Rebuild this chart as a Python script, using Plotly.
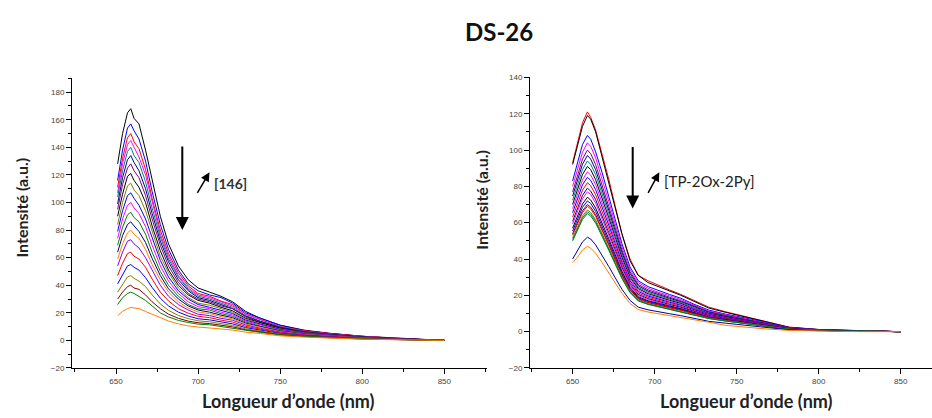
import plotly.graph_objects as go

# ---------------- data ----------------
WL_LEFT = [651, 654, 657, 659, 661, 664, 668, 672, 677, 682, 688, 694, 700, 707, 714, 721, 729, 738, 750, 765, 780, 800, 825, 850]

L01 = [128, 150, 165, 168, 161, 157, 138, 117, 90, 70, 54, 44, 38, 35, 32, 28, 21, 16, 11, 7.4, 5.2, 3, 1.3, 0]
L02 = [116, 138, 154, 157, 152, 146, 130, 108, 84, 66, 51, 41, 36, 33, 31, 27, 20, 16, 11, 7, 5, 3, 1.2, 0]
L03 = [111, 132, 147, 150, 144, 139, 124, 103, 80, 63, 49, 39.5, 34, 32, 28.5, 26, 19, 15, 10, 7, 5, 3, 1.2, 0]
L04 = [107, 128, 142, 145, 140, 133, 120, 100, 77, 61, 47, 38, 33, 31, 28, 25, 19, 15, 10, 6.6, 4.6, 2.7, 1.2, 0]
L05 = [104, 123, 137, 140, 134, 129, 115, 96, 75, 59, 46, 37, 32, 30, 27, 24, 18, 14, 9.7, 6.4, 4.5, 2.6, 1.1, 0]
L06 = [99, 118, 131, 134, 129, 123, 110, 92, 72, 57, 44, 36, 31, 29, 26, 23, 17.5, 13.7, 9.4, 6.2, 4.4, 2.5, 1.1, 0]
L07 = [95, 113, 125, 128, 123, 118, 105, 88, 69, 54, 42, 34, 30, 28, 25, 23, 17, 13, 9, 6, 4.2, 2.4, 1, 0]
L08 = [90, 106, 119, 121, 116, 111, 100, 83, 65, 51, 40, 33, 29, 27, 24, 21.5, 16, 12.7, 8.7, 5.7, 4, 2.3, 1, 0]
L09 = [84, 100, 112, 114, 109, 105, 94, 79, 61, 49, 38, 31, 27, 25.5, 23, 20.5, 15.5, 12, 8.3, 5.5, 3.9, 2.2, 0.9, 0]
L10 = [79, 94, 105, 107, 103, 98, 88, 74, 58, 46, 36, 30, 26, 24, 22, 19.5, 14.7, 11.6, 7.9, 5.2, 3.7, 2.1, 0.9, 0]
L11 = [74, 88, 98, 100, 96, 92, 82.5, 69, 54, 43, 34, 28, 24.5, 23, 20.5, 18.5, 14, 11, 7.5, 5, 3.5, 2, 0.9, 0]
L12 = [69, 82, 91, 93, 89, 86, 77, 64, 50, 40, 32, 26, 23, 22, 19.4, 17.5, 13.3, 10.4, 7.1, 4.8, 3.3, 1.9, 0.8, 0]
L13 = [64, 76, 84, 86, 83, 79, 71, 59.5, 47, 37.4, 30, 25, 22, 20.5, 18.3, 16.5, 12.5, 9.9, 6.7, 4.5, 3.2, 1.8, 0.8, 0]
L14 = [59, 70, 78, 80, 77, 74, 66, 55, 44, 35, 28, 23.4, 20.6, 19.4, 17.3, 15.6, 11.9, 9.4, 6.4, 4.3, 3, 1.7, 0.7, 0]
L15 = [54, 64, 72, 73, 70, 67, 60, 51, 40, 32, 26, 22, 19, 18, 16, 14.6, 11.2, 8.8, 6, 4.1, 2.8, 1.6, 0.7, 0]
L16 = [47, 56, 63, 64, 61, 59, 53, 44.5, 35, 28.6, 23, 19.7, 17.5, 16.5, 14.7, 13.3, 10.2, 8.1, 5.5, 3.7, 2.6, 1.5, 0.7, 0]
L17 = [41, 48, 54, 55, 53, 51, 45.5, 38.4, 30.6, 25, 20.5, 17.7, 15.7, 14.9, 13.3, 12, 9.3, 7.4, 5, 3.4, 2.4, 1.3, 0.6, 0]
L18 = [35, 41, 46, 47, 45, 43, 39, 33, 26.4, 21.8, 18.1, 15.8, 14.2, 13.5, 12, 10.8, 8.4, 6.8, 4.6, 3.1, 2.2, 1.2, 0.6, 0]
L19 = [30, 35, 39, 40, 38, 37, 33, 28, 23, 19, 16, 14, 12.8, 12.2, 11, 9.8, 7.7, 6.2, 4.2, 2.9, 2, 1.1, 0.5, 0]
L20 = [26, 31, 34, 35, 34, 32, 29, 25, 20, 17, 14.5, 13, 11.8, 11.3, 10, 9, 7.2, 5.8, 3.9, 2.7, 1.9, 1, 0.5, 0]
L21 = [18, 21, 23, 24, 23.5, 23, 21, 19, 16, 14, 12, 10.5, 9.7, 9.2, 8.3, 7.5, 6, 5, 3.3, 2.3, 1.6, 0.9, 0.4, 0]

LEFT_COLORS = ["#000000", "#0000FF", "#FF0000", "#FF00FF", "#008080", "#000080", "#800080",
               "#000000", "#808000", "#0000FF", "#FF00FF", "#008000", "#000080", "#FF8000",
               "#8000FF", "#FF0000", "#0000FF", "#808000", "#800000", "#008000", "#FF8000"]

WL_RIGHT = [650, 653, 656, 659, 661, 664, 668, 672, 676, 680, 685, 690, 696, 702, 709, 716, 724, 733, 743, 755, 768, 782, 800, 825, 850]

R01 = [93, 104, 115, 121, 118, 111, 98, 84, 69, 54, 40, 31, 28, 25.5, 23, 20.5, 17, 13.5, 11, 8.5, 5.5, 2.5, 1.2, 0.5, 0]
R02 = [92, 102, 113, 119, 117, 110, 96, 82, 68, 54, 39, 31, 27, 25, 22.6, 20, 16.7, 13, 10.7, 8.3, 5.4, 2.4, 1.2, 0.5, 0]
R03 = [83, 93, 103, 108, 106, 99, 87.5, 74.5, 61.6, 48.6, 35.6, 28, 24.8, 22.7, 20.5, 18.4, 15.1, 11.9, 9.7, 7.6, 4.9, 2.2, 1.1, 0.4, 0]
R04 = [80, 89.4, 98.8, 104, 102, 95.7, 84.2, 71.8, 59.3, 46.8, 34.3, 27, 23.9, 21.8, 19.8, 17.7, 14.6, 11.4, 9.4, 7.3, 4.7, 2.1, 1, 0.4, 0]
R05 = [77, 86, 95, 100, 98, 92, 81, 69, 57, 45, 33, 26, 23, 21, 19, 17, 14, 11, 9, 7, 4.5, 2, 1, 0.4, 0]
R06 = [74.7, 83.4, 92.2, 97, 95, 89.2, 78.6, 66.9, 55.3, 43.7, 32, 25.2, 22.3, 20.4, 18.4, 16.5, 13.6, 10.7, 8.7, 6.8, 4.4, 1.9, 1, 0.4, 0]
R07 = [72.4, 80.8, 89.3, 94, 92.1, 86.5, 76.1, 64.9, 53.6, 42.3, 31, 24.4, 21.6, 19.7, 17.9, 16, 13.2, 10.3, 8.5, 6.6, 4.2, 1.9, 0.9, 0.4, 0]
R08 = [70, 78.3, 86.5, 91, 89.2, 83.7, 73.7, 62.8, 51.9, 41, 30, 23.7, 20.9, 19.1, 17.3, 15.5, 12.7, 10, 8.2, 6.4, 4.1, 1.8, 0.9, 0.4, 0]
R09 = [67.8, 75.7, 83.6, 88, 86.2, 81, 71.3, 60.7, 50.2, 39.6, 29, 22.9, 20.2, 18.5, 16.7, 15, 12.3, 9.7, 7.9, 6.2, 4, 1.8, 0.9, 0.4, 0]
R10 = [65.5, 73.1, 80.8, 85, 83.3, 78.2, 68.9, 58.7, 48.5, 38.3, 28, 22.1, 19.6, 17.9, 16.2, 14.5, 11.9, 9.4, 7.7, 6, 3.8, 1.7, 0.9, 0.3, 0]
R11 = [63.1, 70.5, 77.9, 82, 80.4, 75.4, 66.4, 56.6, 46.7, 36.9, 27.1, 21.3, 18.9, 17.2, 15.6, 13.9, 11.5, 9, 7.4, 5.7, 3.7, 1.6, 0.8, 0.3, 0]
R12 = [60.8, 67.9, 75, 79, 77.4, 72.7, 64, 54.5, 45, 35.6, 26.1, 20.5, 18.2, 16.6, 15, 13.4, 11.1, 8.7, 7.1, 5.5, 3.6, 1.6, 0.8, 0.3, 0]
R13 = [59.3, 66.2, 73.2, 77, 75.5, 70.8, 62.4, 53.1, 43.9, 34.7, 25.4, 20, 17.7, 16.2, 14.6, 13.1, 10.8, 8.5, 6.9, 5.4, 3.5, 1.5, 0.8, 0.3, 0]
R14 = [57, 63.6, 70.3, 74, 72.5, 68.1, 59.9, 51.1, 42.2, 33.3, 24.4, 19.2, 17, 15.5, 14.1, 12.6, 10.4, 8.1, 6.7, 5.2, 3.3, 1.5, 0.7, 0.3, 0]
R15 = [55.4, 61.9, 68.4, 72, 70.6, 66.2, 58.3, 49.7, 41, 32.4, 23.8, 18.7, 16.6, 15.1, 13.7, 12.2, 10.1, 7.9, 6.5, 5, 3.2, 1.4, 0.7, 0.3, 0]
R16 = [53.9, 60.2, 66.5, 70, 68.6, 64.4, 56.7, 48.3, 39.9, 31.5, 23.1, 18.2, 16.1, 14.7, 13.3, 11.9, 9.8, 7.7, 6.3, 4.9, 3.2, 1.4, 0.7, 0.3, 0]
R17 = [53.1, 59.3, 65.6, 69, 67.6, 63.5, 55.9, 47.6, 39.3, 31, 22.8, 17.9, 15.9, 14.5, 13.1, 11.7, 9.7, 7.6, 6.2, 4.8, 3.1, 1.4, 0.7, 0.3, 0]
R18 = [51.6, 57.6, 63.7, 67, 65.7, 61.6, 54.3, 46.2, 38.2, 30.2, 22.1, 17.4, 15.4, 14.1, 12.7, 11.4, 9.4, 7.4, 6, 4.7, 3, 1.3, 0.7, 0.3, 0]
R19 = [50.8, 56.8, 62.7, 66, 64.7, 60.7, 53.5, 45.5, 37.6, 29.7, 21.8, 17.2, 15.2, 13.9, 12.5, 11.2, 9.2, 7.3, 5.9, 4.6, 3, 1.3, 0.7, 0.3, 0]
R20 = [50, 55.9, 61.8, 65, 63.7, 59.8, 52.7, 44.9, 37.1, 29.3, 21.5, 16.9, 15, 13.7, 12.4, 11, 9.1, 7.2, 5.9, 4.6, 2.9, 1.3, 0.7, 0.3, 0]
R21 = [40, 44.7, 49.4, 52, 51, 47.8, 42.1, 35.9, 29.6, 23.4, 17.2, 13.5, 12, 10.9, 9.9, 8.8, 7.3, 5.7, 4.7, 3.6, 2.3, 1, 0.5, 0.2, 0]
R22 = [38, 41, 45, 47, 46, 43.2, 38, 32.4, 26.8, 21.2, 15.5, 12.2, 10.8, 9.9, 8.9, 8, 6.6, 5.2, 3.5, 2.5, 1.5, 0.7, 0.3, 0, 0]

RIGHT_COLORS = ["#FF0000", "#000000", "#0000FF", "#FF00FF", "#800080", "#000080", "#008080",
                "#000000", "#FF00FF", "#0000FF", "#FF0000", "#000080", "#FF00FF", "#000000",
                "#0000FF", "#800000", "#FF0000", "#808000", "#008080", "#008000", "#0000A0", "#FF8000"]

LEFT_SERIES = [L01, L02, L03, L04, L05, L06, L07, L08, L09, L10, L11, L12, L13, L14, L15, L16, L17, L18, L19, L20, L21]
RIGHT_SERIES = [R01, R02, R03, R04, R05, R06, R07, R08, R09, R10, R11, R12, R13, R14, R15, R16, R17, R18, R19, R20, R21, R22]

X_TICKS = [650, 700, 750, 800, 850]
TITLE = "DS-26"
Y_TITLE = "Intensité (a.u.)"
X_TITLE = "Longueur d’onde (nm)"
LEFT_LABEL = "[146]"
RIGHT_LABEL = "[TP-2Ox-2Py]"

# ---------------- figure ----------------
W, H = 932, 418
fig = go.Figure()

for ys, col in zip(LEFT_SERIES, LEFT_COLORS):
    fig.add_trace(go.Scatter(x=WL_LEFT, y=ys, mode="lines", line=dict(color=col, width=1),
                             xaxis="x", yaxis="y", showlegend=False, hoverinfo="skip"))
for ys, col in zip(RIGHT_SERIES, RIGHT_COLORS):
    fig.add_trace(go.Scatter(x=WL_RIGHT, y=ys, mode="lines", line=dict(color=col, width=1),
                             xaxis="x2", yaxis="y2", showlegend=False, hoverinfo="skip"))

tickfont = dict(family="Liberation Sans", size=8, color="#444444")
common_axis = dict(showline=True, linecolor="black", linewidth=1, ticks="outside", ticklen=5,
                   tickwidth=1, tickcolor="black", showgrid=False, zeroline=False,
                   tickfont=tickfont, fixedrange=True)

def px_x(p):
    return p / W

def px_y(p):
    return 1 - p / H

fig.update_layout(
    width=W, height=H, autosize=False,
    margin=dict(l=0, r=0, t=0, b=0),
    paper_bgcolor="white", plot_bgcolor="white",
    xaxis=dict(domain=[px_x(72), px_x(487)], range=[623.2, 876], anchor="y",
               tickvals=X_TICKS, minor=dict(dtick=25, tick0=650, ticklen=3, ticks="outside", tickcolor="black"),
               **common_axis),
    yaxis=dict(domain=[px_y(372), px_y(76)], range=[-20, 190], anchor="x",
               dtick=20, tick0=0, minor=dict(dtick=10, ticklen=3, ticks="outside", tickcolor="black"),
               **common_axis),
    xaxis2=dict(domain=[px_x(530), 1.0], range=[624, 869.1], anchor="y2",
                tickvals=X_TICKS, minor=dict(dtick=25, tick0=650, ticklen=3, ticks="outside", tickcolor="black"),
                **common_axis),
    yaxis2=dict(domain=[px_y(372), px_y(75)], range=[-20, 140], anchor="x2",
                dtick=20, tick0=0, minor=dict(dtick=10, ticklen=3, ticks="outside", tickcolor="black"),
                **common_axis),
)

title_font = dict(family="Lato", size=24, color="#111111")
axis_title_font_x = dict(family="Lato", size=18, color="#222222")
axis_title_font_y = dict(family="Lato", size=16, color="#222222")
label_font = dict(family="Lato", size=15, color="#222222")

anns = [
    dict(text="<b>" + TITLE + "</b>", x=px_x(499), y=px_y(28), xref="paper", yref="paper",
         showarrow=False, font=title_font, xanchor="center", yanchor="middle"),
    dict(text="<b>" + X_TITLE + "</b>", x=px_x(288), y=px_y(406), xref="paper", yref="paper",
         showarrow=False, font=axis_title_font_x, xanchor="center", yanchor="middle"),
    dict(text="<b>" + X_TITLE + "</b>", x=px_x(746), y=px_y(406), xref="paper", yref="paper",
         showarrow=False, font=axis_title_font_x, xanchor="center", yanchor="middle"),
    dict(text="<b>" + Y_TITLE + "</b>", x=px_x(22), y=px_y(208), xref="paper", yref="paper",
         showarrow=False, font=axis_title_font_y, textangle=-90, xanchor="center", yanchor="middle"),
    dict(text="<b>" + Y_TITLE + "</b>", x=px_x(482), y=px_y(200), xref="paper", yref="paper",
         showarrow=False, font=axis_title_font_y, textangle=-90, xanchor="center", yanchor="middle"),
    # left arrows and label
    dict(text="", x=px_x(182.3), y=px_y(231), xref="paper", yref="paper", showarrow=True,
         ax=0, ay=-85, arrowhead=2, arrowsize=1.3, arrowwidth=2, arrowcolor="black"),
    dict(text="", x=px_x(209.5), y=px_y(172), xref="paper", yref="paper", showarrow=True,
         ax=-13, ay=22, arrowhead=2, arrowsize=1.2, arrowwidth=1.5, arrowcolor="black"),
    dict(text="<b>" + LEFT_LABEL + "</b>", x=px_x(212), y=px_y(183), xref="paper", yref="paper", showarrow=False,
         font=dict(family="Lato", size=14, color="#333333"), xanchor="left", yanchor="middle"),
    # right arrows and label
    dict(text="", x=px_x(632.7), y=px_y(209), xref="paper", yref="paper", showarrow=True,
         ax=0, ay=-63, arrowhead=2, arrowsize=1.3, arrowwidth=2, arrowcolor="black"),
    dict(text="", x=px_x(659.3), y=px_y(172), xref="paper", yref="paper", showarrow=True,
         ax=-12, ay=22, arrowhead=2, arrowsize=1.2, arrowwidth=1.5, arrowcolor="black"),
    dict(text=RIGHT_LABEL, x=px_x(662), y=px_y(181), xref="paper", yref="paper", showarrow=False,
         font=label_font, xanchor="left", yanchor="middle"),
]
fig.update_layout(annotations=anns)

fig.write_html(
    "out.html",
    config={"displayModeBar": False},
    post_script="document.body.style.margin='0';document.body.style.padding='0';"
                "document.documentElement.style.overflow='hidden';",
)
